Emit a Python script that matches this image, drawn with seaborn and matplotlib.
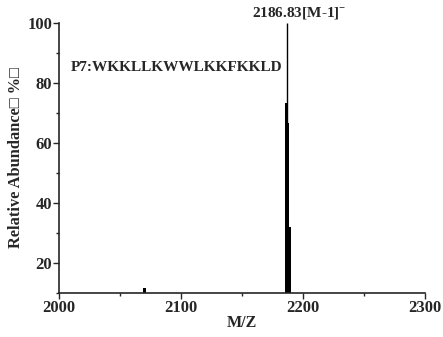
import matplotlib
matplotlib.use("Agg")
import matplotlib.pyplot as plt
from matplotlib.ticker import MultipleLocator
import seaborn as sns

# Peak list: m/z positions and relative abundances (%)
mz_values = [2070.4, 2186.1, 2187.95, 2189.5]
abundance = [11.6, 73.2, 66.6, 31.9]
bar_widths = [2.4, 1.9, 1.7, 1.4]

# Base peak drawn as a thin stick
base_mz = 2186.83
base_abundance = 100.0

peak_label = "2186.83[M-1]$^{\\mathbf{-}}$"
sequence_label = "P7:WKKLLKWWLKKFKKLD"

sns.set_style("ticks")
plt.rcParams["font.family"] = ["Liberation Serif", "DejaVu Sans"]
plt.rcParams["font.weight"] = "bold"
plt.rcParams["mathtext.fontset"] = "custom"
plt.rcParams["mathtext.rm"] = "Liberation Serif:bold"
plt.rcParams["mathtext.bf"] = "Liberation Serif:bold"

fig = plt.figure(figsize=(4.43, 3.37), dpi=100)
ax = fig.add_axes([0.1332, 0.1306, 0.8262, 0.8012])

ax.bar(mz_values, abundance, width=bar_widths, color="black", linewidth=0, align="center")
ax.vlines([base_mz], 10, [base_abundance], color="black", linewidth=1.0)

ax.set_xlim(2000, 2300)
ax.set_ylim(10, 100)
ax.xaxis.set_major_locator(MultipleLocator(100))
ax.xaxis.set_minor_locator(MultipleLocator(50))
ax.set_yticks([20, 40, 60, 80, 100])
ax.yaxis.set_minor_locator(MultipleLocator(10))

sns.despine(ax=ax)
for side in ("left", "bottom"):
    ax.spines[side].set_linewidth(1.2)
ax.tick_params(axis="both", which="major", direction="out", length=4, width=1.0,
               labelsize=12, pad=1)
ax.tick_params(axis="both", which="minor", direction="out", length=2.5, width=1.0)
for lbl in ax.get_xticklabels() + ax.get_yticklabels():
    lbl.set_fontweight("bold")

ax.set_xlabel("M/Z", fontsize=11.5, fontweight="bold", labelpad=-1)
ax.set_ylabel("Relative Abundance\u25a1 %\u25a1", fontsize=11.8, fontweight="bold", labelpad=2)

ax.text(base_mz + 10, 100.2, peak_label, ha="center", va="bottom", fontsize=11,
        fontweight="bold")
ax.text(2096, 85.2, sequence_label, ha="center", va="center", fontsize=11,
        fontweight="bold")

fig.savefig("out.png", dpi=100)
